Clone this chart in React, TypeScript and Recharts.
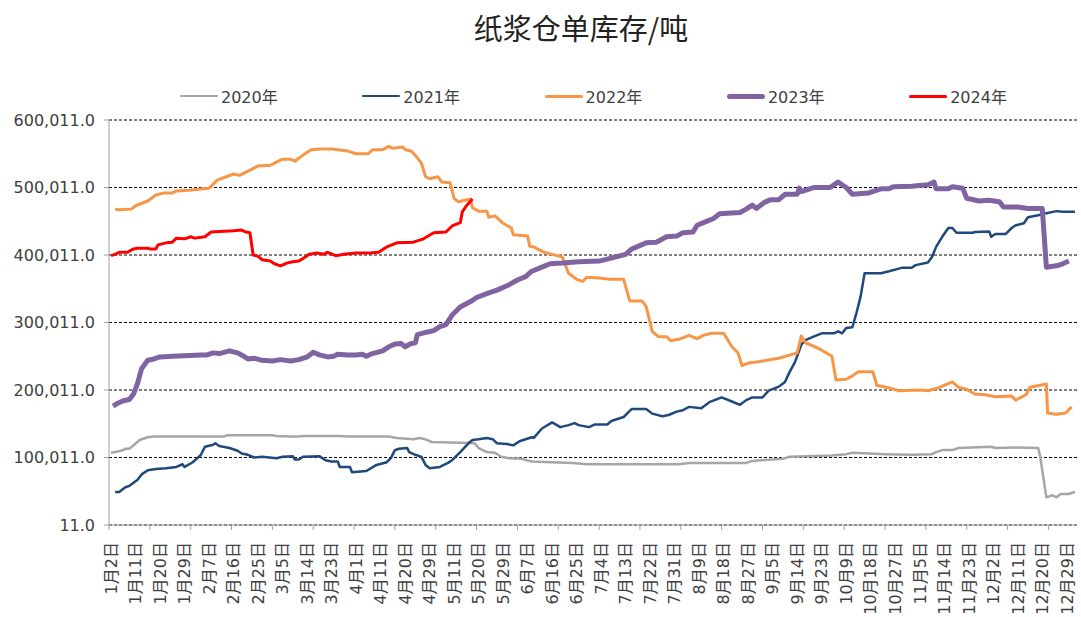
import { LineChart, Line, XAxis, YAxis, CartesianGrid } from "recharts";

const FONT = "'DejaVu Sans', 'Noto Sans CJK SC', sans-serif";
const TEXT_COLOR = "#404040";

// x 轴日期标签，每 6 个交易日一个
const tickLabels = [
  "1月2日", "1月11日", "1月20日", "1月29日", "2月7日", "2月16日", "2月25日", "3月5日",
  "3月14日", "3月23日", "4月1日", "4月11日", "4月20日", "4月29日", "5月11日", "5月20日",
  "5月29日", "6月7日", "6月16日", "6月25日", "7月4日", "7月13日", "7月22日", "7月31日",
  "8月9日", "8月18日", "8月27日", "9月5日", "9月14日", "9月23日", "10月9日", "10月18日",
  "10月27日", "11月5日", "11月14日", "11月23日", "12月2日", "12月11日", "12月20日", "12月29日",
];

const yTicks = [11, 100011, 200011, 300011, 400011, 500011, 600011];

// [交易日序号, 库存(千吨)]
const s2020: [number, number][] = [
  [0, 107], [1, 108], [3, 111], [3.5, 113], [4.5, 113], [5.5, 118], [7, 126], [9, 130], [10.5, 131],
  [27.5, 131], [28.5, 133], [39.5, 133], [40.5, 132], [44, 131], [46, 131], [47, 132], [56, 132],
  [58, 131], [68, 131], [70, 129], [74, 127], [75.5, 129], [77, 127], [78.5, 123], [85.5, 122],
  [89, 121], [90, 114], [92, 108], [94, 107], [95.5, 101], [97.5, 99], [100.5, 98], [103, 94],
  [108, 93], [113, 92], [116.5, 90], [139, 90], [141.5, 92], [155.5, 92], [157, 95], [164.5, 98],
  [166, 101], [176.5, 103], [180, 105], [181.5, 107], [189.5, 105], [196, 104], [201, 105],
  [202, 108], [203.5, 111], [206, 111], [207.5, 114], [215.5, 116], [216.5, 114], [221.5, 115],
  [227, 114], [227.5, 101], [229, 41], [230.5, 44], [231.5, 41], [232.5, 46], [234.5, 46], [236, 49],
];

const s2021: [number, number][] = [
  [1, 49], [2, 49], [3.5, 56], [4.5, 58], [6.5, 67], [7.5, 75], [9, 81], [11, 83], [13.5, 84],
  [16, 86], [17.5, 90], [18, 86], [20, 93], [22, 104], [23, 116], [25, 119], [25.5, 121], [26.5, 117],
  [29, 114], [31, 110], [32, 106], [33.5, 104], [35, 100], [37, 101], [40.5, 99], [42, 101],
  [44.5, 102], [45, 97], [46, 97], [47, 101], [51, 102], [52.5, 96], [54, 94], [55.5, 94], [56, 86],
  [58.5, 86], [59, 78], [62.5, 80], [65, 89], [67.5, 93], [68.5, 99], [69.5, 111], [70.5, 113],
  [72.5, 114], [73, 108], [74.5, 104], [76, 101], [77, 89], [78, 84], [80.5, 86], [82.5, 92],
  [83.5, 96], [85.5, 108], [87.5, 121], [88.5, 126], [90, 127], [92, 129], [93.5, 127], [94.5, 121],
  [97, 120], [98.5, 118], [100, 124], [103, 130], [103.5, 129], [105.5, 143], [108, 152], [110, 145],
  [112, 148], [113.5, 151], [114.5, 148], [117, 145], [118.5, 149], [121.5, 149], [122.5, 154],
  [125.5, 160], [127.5, 172], [131, 172], [132.5, 165], [135, 161], [136.5, 163], [138.5, 168],
  [140, 170], [141.5, 175], [144.5, 173], [146.5, 182], [149.5, 189], [152, 183], [154, 178],
  [155.5, 185], [157, 189], [159.5, 189], [161, 199], [163.5, 205], [165, 212], [166, 225],
  [167.5, 242], [169, 267], [170, 274], [172, 279], [174, 284], [177, 284], [178, 287], [179, 284],
  [180, 292], [181.5, 293], [182.5, 314], [183.5, 338], [184.5, 373], [186.5, 373], [188.5, 373],
  [190.5, 376], [193.5, 381], [196, 381], [197, 385], [200, 389], [201, 397], [202, 412],
  [203.5, 427], [205, 440], [206, 440], [207, 433], [211, 433], [211.5, 434], [215, 435],
  [215.5, 427], [216.5, 431], [219, 431], [220.5, 440], [221.5, 444], [223.5, 447], [224.5, 456],
  [227, 459], [229, 462], [231.5, 465], [233, 464], [236, 464],
];

const s2022: [number, number][] = [
  [1, 468], [2, 467], [5, 468], [6, 473], [9, 480], [11, 489], [13, 492], [15, 492], [16, 495],
  [19, 496], [24, 499], [26, 511], [30, 520], [31.5, 518], [36, 532], [39, 533], [41, 539], [42, 542],
  [44, 542], [45, 539], [47, 548], [49, 556], [51, 557], [54, 557], [58, 554], [60, 550], [63, 550],
  [64, 556], [66.5, 556], [68, 561], [69, 558], [71.5, 560], [72, 556], [73.5, 554], [75, 544],
  [76, 536], [77, 516], [78, 513], [80, 516], [81, 508], [83, 507], [84, 484], [85, 479], [88, 483],
  [88.5, 470], [90, 465], [92, 465], [92.5, 456], [94, 458], [96, 447], [98, 440], [98.5, 430],
  [102, 428], [102.5, 413], [103.5, 412], [106, 404], [108, 401], [110.5, 397], [112, 373],
  [114, 364], [115.5, 361], [116.5, 367], [119.5, 366], [122, 364], [125.5, 364], [127, 332],
  [130, 332], [131, 324], [132.5, 287], [134, 279], [136, 279], [137, 273], [139.5, 276],
  [141.5, 281], [143.5, 276], [145, 281], [147, 284], [150, 284], [152, 264], [153.5, 255],
  [154.5, 236], [156, 240], [158.5, 242], [163.5, 247], [168, 255], [169, 280], [170, 270],
  [172, 265], [174, 259], [176.5, 250], [177.5, 215], [180, 216], [181.5, 221], [183, 227],
  [186.5, 227], [187.5, 207], [190.5, 203], [193, 199], [198, 200], [200, 199], [202.5, 203],
  [206, 212], [207.5, 204], [209.5, 201], [211.5, 194], [214, 193], [216.5, 190], [220.5, 191],
  [221.5, 185], [224, 193], [225, 204], [229, 209], [229.3, 166], [231.3, 164], [233.7, 166],
  [235.2, 175],
];

const s2023: [number, number][] = [
  [0.5, 176], [1.5, 180], [3, 184], [4.5, 186], [5.5, 194], [6.5, 210], [7.5, 232], [9, 244],
  [10.5, 246], [12, 249], [15, 250], [22, 252], [23.5, 252], [25, 255], [26.5, 254], [29, 258],
  [31, 255], [32.5, 250], [33.5, 246], [35, 247], [37, 244], [39.5, 243], [41.5, 245], [44, 243],
  [46, 245], [48, 249], [49.5, 256], [51, 252], [53, 249], [54.5, 250], [55.5, 253], [58, 252],
  [60, 252], [61.5, 253], [62.5, 250], [64, 254], [66.5, 258], [68, 264], [69.5, 268], [71, 269],
  [72, 264], [73.5, 269], [74.5, 270], [75, 282], [77.5, 286], [79, 288], [80.5, 294], [82, 297],
  [83.5, 311], [85.5, 323], [88, 331], [89.5, 337], [92.5, 344], [94.5, 348], [97.5, 356],
  [99.5, 363], [101.5, 368], [103, 376], [105.5, 382], [107.5, 387], [110.5, 388], [114.5, 390],
  [119.5, 391], [121.5, 394], [126, 401], [127.5, 409], [131, 418], [133.5, 419], [136, 427],
  [138.5, 428], [140, 433], [142.5, 434], [143.5, 444], [145.5, 449], [147.5, 454], [149, 461],
  [154, 463], [155.5, 468], [157, 474], [158, 469], [160, 478], [161.5, 482], [163.5, 482],
  [165, 490], [168, 490], [168.5, 499], [169, 494], [172, 500], [176, 500], [178, 508], [180, 500],
  [181.5, 490], [185.5, 492], [188.5, 498], [190.5, 498], [191.5, 501], [196, 502], [200, 504],
  [201.5, 508], [202, 498], [205, 498], [206, 501], [208.5, 499], [209.5, 484], [212.5, 480],
  [215, 481], [217.5, 479], [218.5, 471], [222, 471], [224.5, 469], [228, 469], [229, 382],
  [231.5, 384], [233, 387], [234.5, 391],
];

const s2024: [number, number][] = [
  [0, 399], [1, 401], [2, 404], [4, 404], [5.5, 409], [6.5, 410], [9, 410], [9.5, 409], [11, 409],
  [11.5, 415], [13.5, 418], [15, 419], [16, 425], [18, 424], [19.5, 427], [20.5, 425], [23, 427],
  [24.5, 434], [30, 436], [32, 437], [33, 434], [34, 433], [34.8, 400], [36, 398], [37, 393],
  [39, 391], [40, 387], [41.5, 384], [43, 388], [44.5, 390], [46, 391], [47, 395], [48.5, 401],
  [50.5, 403], [52, 401], [53, 404], [55, 399], [57, 401], [60, 403], [63.5, 403], [65.5, 404],
  [67.5, 412], [70, 418], [74, 419], [76.5, 424], [79, 433], [82, 434], [83.5, 443], [85.5, 448],
  [86, 464], [87, 473], [88.5, 483],
];

const SERIES = [
  { name: "2020年", color: "#A6A6A6", width: 2.5, points: s2020 },
  { name: "2021年", color: "#1F497D", width: 2.5, points: s2021 },
  { name: "2022年", color: "#F79646", width: 3, points: s2022 },
  { name: "2023年", color: "#8064A2", width: 5, points: s2023 },
  { name: "2024年", color: "#FF0000", width: 3, points: s2024 },
];

// 标签位置 + 刻度线位置（每 10 个交易日）
const labelDays = tickLabels.map((_, i) => i * 6);
const markDays = Array.from({ length: 24 }, (_, i) => i * 10 - 0.5);
const xTicks = [...markDays, ...labelDays].sort((a, b) => a - b);

const fmt = (v: number) =>
  v.toLocaleString("en-US", { minimumFractionDigits: 1, maximumFractionDigits: 1 });

function DateTick({ x, y, payload }: any) {
  const d = payload.value as number;
  if (!Number.isInteger(d)) {
    return <line x1={x} x2={x} y1={y} y2={y + 5} stroke="#a0a0a0" />;
  }
  const ty = y + 17;
  return (
    <text
      x={x}
      y={ty}
      transform={`rotate(-90, ${x}, ${ty})`}
      textAnchor="end"
      dy="0.36em"
      fontSize={16}
      fontFamily={FONT}
      fill={TEXT_COLOR}
    >
      {tickLabels[d / 6]}
    </text>
  );
}

export default function App() {
  return (
    <div style={{ position: "absolute", left: 0, top: 0, width: 1081, height: 617, background: "#fff" }}>
      <div
        style={{
          position: "absolute",
          left: 381,
          top: 11,
          width: 400,
          textAlign: "center",
          fontSize: 29,
          lineHeight: "32px",
          fontFamily: "'Noto Sans CJK SC', sans-serif",
          color: "#222",
        }}
      >
        纸浆仓单库存/吨
      </div>

      {SERIES.map((s, i) => (
        <div
          key={s.name}
          style={{ position: "absolute", left: 180 + i * 182.3, top: 85, height: 22, display: "flex", alignItems: "center" }}
        >
          <div style={{ width: 38, height: s.width, background: s.color, borderRadius: s.width / 2 }} />
          <span style={{ marginLeft: 3, fontSize: 16, fontFamily: FONT, color: TEXT_COLOR }}>{s.name}</span>
        </div>
      ))}

      <LineChart width={1081} height={617} margin={{ top: 120, right: 4, left: 0, bottom: 0 }}>
        <CartesianGrid vertical={false} stroke="#000" strokeDasharray="3 2" />
        <XAxis
          type="number"
          dataKey="d"
          domain={[-0.5, 236.5]}
          ticks={xTicks}
          interval={0}
          height={92}
          tickSize={0}
          tickMargin={0}
          tickLine={false}
          axisLine={{ stroke: "#a0a0a0" }}
          tick={<DateTick />}
          allowDataOverflow
        />
        <YAxis
          type="number"
          domain={[11, 600011]}
          ticks={yTicks}
          interval={0}
          width={109}
          tickSize={5}
          tickMargin={9}
          tickFormatter={fmt}
          axisLine={{ stroke: "#a0a0a0" }}
          tickLine={{ stroke: "#a0a0a0" }}
          tick={{ fontSize: 16, fontFamily: FONT, fill: TEXT_COLOR }}
          allowDataOverflow
        />
        {SERIES.map((s) => (
          <Line
            key={s.name}
            name={s.name}
            data={s.points.map(([d, kt]) => ({ d, v: kt * 1000 }))}
            dataKey="v"
            type="linear"
            stroke={s.color}
            strokeWidth={s.width}
            strokeLinejoin="round"
            dot={false}
            activeDot={false}
            isAnimationActive={false}
          />
        ))}
      </LineChart>
    </div>
  );
}
